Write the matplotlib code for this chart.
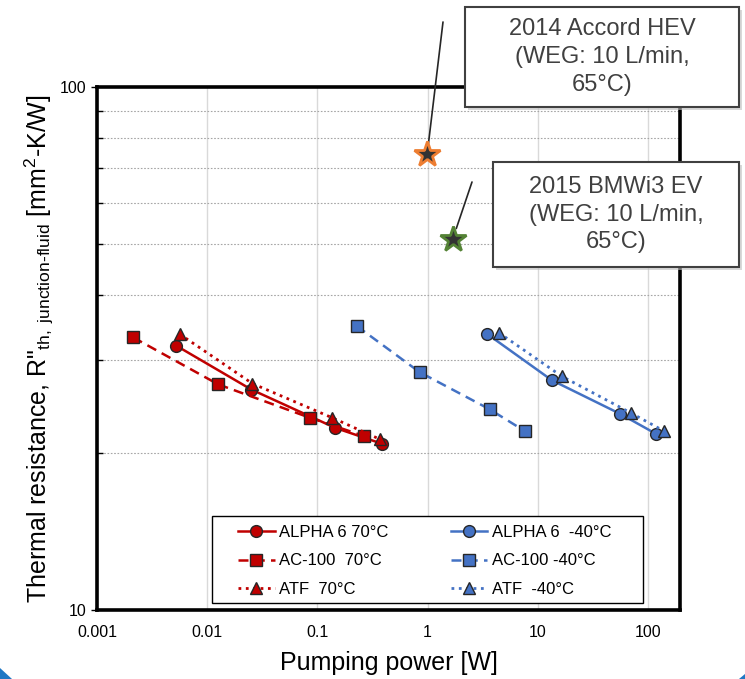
import numpy as np
from matplotlib import pyplot as plt
from matplotlib.patches import Rectangle, Polygon

plt.rcParams['font.family'] = ['Liberation Sans', 'DejaVu Sans']
plt.rcParams['mathtext.fontset'] = 'custom'
plt.rcParams['mathtext.rm'] = 'Liberation Sans'
plt.rcParams['mathtext.it'] = 'Liberation Sans'

# pumping power [W] / thermal resistance [mm2-K/W]
alpha_70_x = [0.00526, 0.0251, 0.145, 0.383]
alpha_70_y = [32.0, 26.4, 22.3, 20.8]
ac_70_x = [0.00213, 0.0126, 0.086, 0.267]
ac_70_y = [33.2, 27.0, 23.3, 21.5]
atf_70_x = [0.00562, 0.0257, 0.137, 0.37]
atf_70_y = [33.7, 27.1, 23.3, 21.2]

alpha_m40_x = [3.48, 13.4, 56.2, 119]
alpha_m40_y = [33.7, 27.5, 23.7, 21.7]
ac_m40_x = [0.228, 0.845, 3.65, 7.57]
ac_m40_y = [34.9, 28.5, 24.2, 22.0]
atf_m40_x = [4.43, 16.4, 70.2, 139]
atf_m40_y = [33.9, 28.0, 23.8, 22.0]

accord = (0.99, 74.3)
bmw = (1.69, 51.2)

RED = '#C00000'
BLUE = '#4472C4'
EDGE = '#262626'

fig = plt.figure(figsize=(7.45, 6.79), dpi=100)
ax = fig.add_axes([97/745, 1-610/679, 583/745, 523/679])

mk = dict(markersize=8.5, markeredgecolor=EDGE, markeredgewidth=1.0)
ax.plot(alpha_70_x, alpha_70_y, '-', color=RED, lw=1.8, marker='o', markerfacecolor=RED, label='ALPHA 6 70°C', **mk)
ax.plot(ac_70_x, ac_70_y, '--', color=RED, lw=1.8, dashes=(4, 2.5), marker='s', markerfacecolor=RED, label='AC-100  70°C', **mk)
ax.plot(atf_70_x, atf_70_y, ':', color=RED, lw=2.0, marker='^', markerfacecolor=RED, label='ATF  70°C', **mk)
ax.plot(alpha_m40_x, alpha_m40_y, '-', color=BLUE, lw=1.8, marker='o', markerfacecolor=BLUE, label='ALPHA 6  -40°C', **mk)
ax.plot(ac_m40_x, ac_m40_y, '--', color=BLUE, lw=1.8, dashes=(4, 2.5), marker='s', markerfacecolor=BLUE, label='AC-100 -40°C', **mk)
ax.plot(atf_m40_x, atf_m40_y, ':', color=BLUE, lw=2.0, marker='^', markerfacecolor=BLUE, label='ATF  -40°C', **mk)

ax.plot(*accord, marker='*', markersize=19, markerfacecolor='#333333', markeredgecolor='#ED7D31', markeredgewidth=2, zorder=5)
ax.plot(*bmw, marker='*', markersize=19, markerfacecolor='#333333', markeredgecolor='#548235', markeredgewidth=2, zorder=5)

# leader lines from the callout boxes
ax.annotate('', xy=accord, xytext=(443, 679-22), textcoords='figure pixels',
            arrowprops=dict(arrowstyle='-', color='#262626', lw=1.2, shrinkA=0, shrinkB=8), annotation_clip=False)
ax.annotate('', xy=bmw, xytext=(472, 679-182), textcoords='figure pixels',
            arrowprops=dict(arrowstyle='-', color='#262626', lw=1.2, shrinkA=0, shrinkB=8), annotation_clip=False)

ax.set_xscale('log')
ax.set_yscale('log')
ax.set_xlim(0.001, 195)
ax.set_ylim(10, 100)
ax.set_xticks([0.001, 0.01, 0.1, 1, 10, 100])
ax.set_xticklabels(['0.001', '0.01', '0.1', '1', '10', '100'])
ax.set_yticks([10, 100])
ax.set_yticklabels(['10', '100'])
ax.set_yticks([20, 30, 40, 50, 60, 70, 80, 90], minor=True)
ax.set_xticks([], minor=True)
ax.yaxis.set_minor_formatter(plt.NullFormatter())
ax.tick_params(axis='both', which='major', labelsize=11.5, length=4, width=1, direction='out')
ax.tick_params(axis='x', which='major', length=0, pad=11)
ax.tick_params(axis='y', which='minor', length=4, width=1, direction='in')
ax.grid(True, axis='x', which='major', color='#d9d9d9', lw=1, ls='-')
ax.grid(True, axis='y', which='minor', color='#a6a6a6', lw=0.8, ls=(0, (1.5, 1.5)))
for s in ax.spines.values():
    s.set_linewidth(2.6)
    s.set_color('black')

ax.set_xlabel('Pumping power [W]', fontsize=18, labelpad=8)
ax.set_ylabel('Thermal resistance, R"$_{\\mathrm{th,\\ junction\u2010fluid}}$ [mm$^2$-K/W]', fontsize=18, labelpad=3)

# legend: frame drawn separately so its box matches the reference
def px_to_ax(x, y):
    return (x - 97) / 583, (610 - y) / 523

leg = ax.legend(ncol=2, loc='upper left', bbox_to_anchor=px_to_ax(238, 525), frameon=False,
                borderaxespad=0, borderpad=0, fontsize=12, handlelength=2.2, labelspacing=0.8,
                numpoints=1, columnspacing=3.75, handletextpad=0.25)
fx0, fy0 = px_to_ax(212, 603)
fx1, fy1 = px_to_ax(643, 516)
ax.add_patch(Rectangle((fx0, fy0), fx1 - fx0, fy1 - fy0, transform=ax.transAxes,
                       facecolor='white', edgecolor='black', lw=1.0, zorder=4))
leg.set_zorder(6)

# callout boxes
def callout(x0, y0, x1, y1, text):
    w, h = (x1 - x0) / 745, (y1 - y0) / 679
    fx, fy = x0 / 745, 1 - y1 / 679
    fig.patches.append(Rectangle((fx + 3/745, fy - 3/679), w, h, transform=fig.transFigure,
                                 facecolor='#bfbfbf', edgecolor='none', alpha=0.6, zorder=10))
    fig.patches.append(Rectangle((fx, fy), w, h, transform=fig.transFigure,
                                 facecolor='white', edgecolor='#404040', lw=1.5, zorder=11))
    fig.text(fx + w/2, fy + h/2, text, ha='center', va='center', fontsize=17,
             color='#404040', linespacing=1.35, zorder=12)

callout(465, 7, 739, 107, '2014 Accord HEV\n(WEG: 10 L/min,\n65°C)')
callout(493, 162, 739, 267, '2015 BMWi3 EV\n(WEG: 10 L/min,\n65°C)')

# slide frame corners
fig.patches.append(Polygon([(0, 1-668/679), (12/745, 0), (0, 0)], closed=True,
                           transform=fig.transFigure, facecolor='#1f77c4', edgecolor='none'))
fig.patches.append(Polygon([(1, 1-674/679), (1, 0), (739/745, 0)], closed=True,
                           transform=fig.transFigure, facecolor='#1f77c4', edgecolor='none'))

plt.savefig('out.png', dpi=100)
